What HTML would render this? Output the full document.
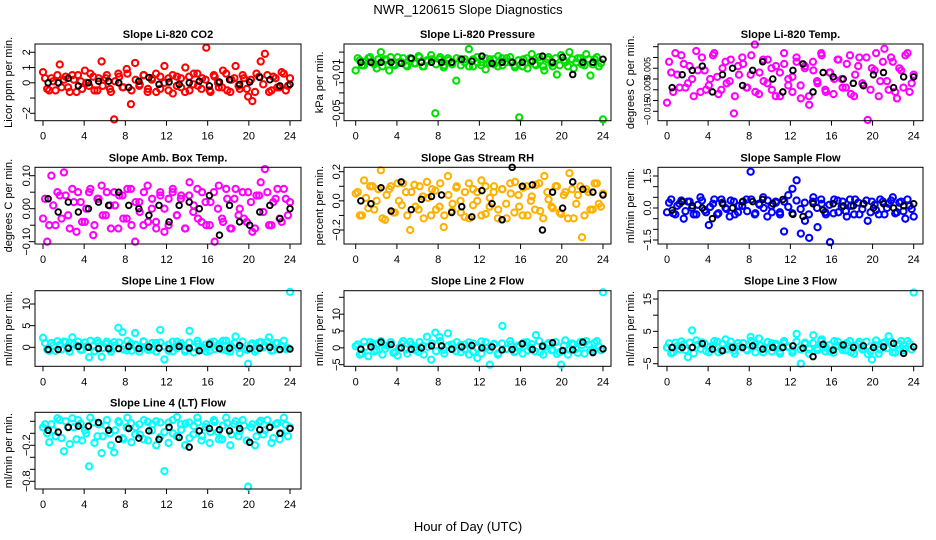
<!DOCTYPE html>
<html><head><meta charset="utf-8">
<style>
html,body{margin:0;padding:0;background:#fff;}
svg{display:block;font-family:"Liberation Sans",Arial,sans-serif;}
</style></head>
<body>
<svg id="fig" width="936" height="540" viewBox="0 0 936 540" xmlns="http://www.w3.org/2000/svg">
<rect x="0" y="0" width="936" height="540" fill="#fff"/>
<text x="468" y="14" font-size="13" text-anchor="middle">NWR_120615  Slope Diagnostics</text>
<text x="468" y="531" font-size="13" text-anchor="middle">Hour of Day (UTC)</text>
</svg>
<script>
const xTicks=[0,4,8,12,16,20,24];
const titles=["Slope Li-820 CO2","Slope Li-820 Pressure","Slope Li-820 Temp.","Slope Amb. Box Temp.","Slope Gas Stream RH","Slope Sample Flow","Slope Line 1 Flow","Slope Line 2 Flow","Slope Line 3 Flow","Slope Line 4 (LT) Flow"];
const yTitles=["Licor ppm per min.","kPa per min.","degrees C per min.","degrees C per min.","percent per min.","ml/min per min.","ml/min per min.","ml/min per min.","ml/min per min.","ml/min per min."];
const yTickVals=[[2,1,0,-1,-2],[0.01,0,-0.01,-0.02,-0.03,-0.04,-0.05],[0.015,0.01,0.005,0,-0.005,-0.01,-0.015],[0.1,0.05,0,-0.05,-0.1],[0.2,0.1,0,-0.1,-0.2],[1.5,1,0.5,0,-0.5,-1,-1.5],[10,5,0],[15,10,5,0,-5],[15,10,5,0,-5],[0.2,0,-0.2,-0.4,-0.6,-0.8]];
const yTickLabels=[["2","1","0","","\u22122"],["","","\u22120.01","","","","\u22120.05"],["","","0.005","","\u22120.005","","\u22120.015"],["0.10","","0.00","","\u22120.10"],["0.2","","0.0","","\u22120.2"],["1.5","","","0.0","","","\u22121.5"],["10","5","0"],["","10","5","0","\u22125"],["15","","5","","\u22125"],["","","\u22120.2","","","\u22120.8"]];
const seriesColors=["#ff0000","#00e000","#ff00ff","#ff00ff","#ffb000","#0000ff","#00ffff","#00ffff","#00ffff","#00ffff"];
const c1=[0.7,-0.4,0.3,-0.5,1.2,0.2,-0.3,0.5,-0.6,0.1,0.8,-0.2,0.4,-0.5,1.4,0.3,-0.4,-2.4,0.6,-0.3,0.9,-1.4,1.3,-0.2,0.5,-0.6,0.2,0.6,-0.4,1.1,0.3,-0.7,0.4,-0.3,1.0,-0.5,0.6,-0.2,0.3,2.3,-0.6,0.4,-0.3,0.8,-0.5,0.2,1.1,-0.4,0.3,-0.9,-1.2,0.6,1.4,1.9,-0.6,0.4,-0.3,0.7,-0.5,0.3];
const b1=[0.3,-0.5,0.1,0.5,-0.3,0.4,-0.6,0.2,0.5,-0.4,0.0,0.6,-0.5,0.3,-0.2,0.5,-0.6,0.1,0.4,-0.3,0.6,-0.5,0.2,-0.1,0.5,-0.4,0.3,-0.6,0.4,0.0,-0.5,0.5,-0.2,0.3,-0.6,0.4,-0.1,0.6,-0.4,0.2,-0.5,0.5,0.0,-0.3,0.6,-0.6,0.3,-0.2,0.5,-0.4,0.2,-0.6,0.4,-0.1,0.5,-0.5,0.3,-0.3,0.6,-0.2];
const k1=[0,0.0,0.3,-0.2,0.0,0.1,0.1,0.0,-0.3,0.1,0.35,-0.1,0.05,-0.1,0.0,0.1,-0.2,0.05,0.2,-0.1,0.05,0.35,0.2,-0.2,-0.1];
const c2=[-0.008,0.002,-0.003,0.004,0.0,-0.006,0.01,0.003,-0.008,-0.002,0.005,0.0,-0.003,0.004,-0.001,0.006,-0.004,0.002,0.007,-0.05,0.003,-0.005,0.004,-0.002,-0.018,0.003,0.0,0.013,-0.004,0.005,0.0,-0.007,0.003,-0.002,0.006,-0.003,0.004,0.0,-0.005,-0.054,0.003,-0.006,0.008,-0.003,0.002,-0.008,0.005,-0.004,-0.012,0.007,0.0,0.01,-0.006,0.004,-0.002,0.008,-0.013,0.003,-0.004,-0.056];
const b2=[0.004,-0.003,0.001,0.005,-0.002,0.003,-0.004,0.002,0.005,-0.003,0.0,0.004,-0.004,0.003,-0.001,0.005,-0.004,0.001,0.003,-0.002,0.005,-0.003,0.002,0.0,0.004,-0.003,0.003,-0.004,0.003,0.0,-0.003,0.004,-0.001,0.003,-0.004,0.004,0.0,0.005,-0.003,0.002,-0.004,0.004,0.0,-0.002,0.005,-0.004,0.003,-0.001,0.004,-0.003,0.002,-0.004,0.003,0.0,0.004,-0.003,0.003,-0.002,0.005,-0.001];
const k2=[0,0,0,0,-0.001,0.004,0,0,0,0,0.003,0.001,0.006,-0.001,0,0,0,0.001,0.006,0,0.005,-0.012,0,0,0.003];
const c3=[-0.011,0.003,0.012,-0.004,0.007,-0.002,0.0,0.013,-0.006,0.004,-0.003,0.011,0.001,-0.005,0.008,-0.001,-0.016,0.006,0.01,-0.004,0.002,0.016,-0.007,0.009,-0.002,0.005,-0.008,0.003,0.012,-0.003,0.001,0.008,-0.009,0.006,-0.012,0.004,-0.002,0.011,-0.006,0.003,0.0,0.009,-0.004,0.007,-0.007,0.002,0.01,-0.003,-0.019,0.005,0.012,-0.001,0.014,-0.005,0.008,-0.009,0.004,0.011,-0.006,0.002];
const b3=[0.008,-0.006,0.002,0.011,-0.004,0.006,-0.008,0.004,0.01,-0.005,0.0,0.012,-0.007,0.005,-0.002,0.009,-0.008,0.002,0.007,-0.004,0.011,-0.006,0.003,-0.001,0.009,-0.005,0.006,-0.008,0.007,0.0,-0.006,0.01,-0.003,0.005,-0.008,0.008,-0.001,0.012,-0.005,0.003,-0.007,0.009,0.0,-0.004,0.011,-0.008,0.006,-0.002,0.01,-0.005,0.004,-0.008,0.008,-0.001,0.01,-0.006,0.005,-0.004,0.012,-0.002];
const k3=[-0.004,0.002,0.004,0.006,-0.006,0.002,0.005,-0.003,0.004,0.008,0.0,-0.006,0.004,0.007,-0.006,0.003,0.001,0.0,-0.002,-0.003,0.002,0.003,-0.004,0.001,0.001];
const c4=[-0.03,-0.1,0.1,-0.05,0.04,0.11,-0.02,0.06,-0.07,0.02,-0.04,0.05,-0.08,0.03,0.07,-0.02,0.01,0.05,-0.06,0.04,-0.03,0.06,-0.1,0.02,-0.05,0.07,0.0,-0.04,0.05,-0.07,0.03,0.06,-0.02,0.04,-0.06,0.08,0.01,-0.03,0.05,-0.05,0.02,-0.1,0.07,-0.04,0.03,-0.06,0.06,0.0,-0.03,0.05,-0.07,0.04,0.08,0.12,-0.05,0.02,0.06,-0.04,0.03,0.02];
const b4=[0.03,-0.05,0.01,0.05,-0.03,0.04,-0.06,0.02,0.05,-0.04,0.0,0.06,-0.05,0.03,-0.02,0.05,-0.06,0.01,0.04,-0.03,0.06,-0.05,0.02,-0.01,0.05,-0.04,0.03,-0.06,0.04,0.0,-0.05,0.05,-0.02,0.03,-0.06,0.04,-0.01,0.06,-0.04,0.02,-0.05,0.05,0.0,-0.03,0.06,-0.06,0.03,-0.02,0.05,-0.04,0.02,-0.06,0.04,-0.01,0.05,-0.05,0.03,-0.03,0.06,-0.02];
const k4=[0.03,-0.01,0.02,-0.01,0.0,0.02,0.01,0.05,0.01,0.0,-0.02,0.01,-0.04,0.01,0.02,0.0,0.04,-0.08,0.01,-0.04,-0.05,-0.01,0.01,-0.03,0.0];
const c5=[0.05,-0.1,0.14,-0.05,0.1,0.0,0.21,-0.13,0.08,-0.08,0.12,-0.03,0.06,-0.2,0.11,-0.06,0.03,0.13,-0.1,0.07,-0.04,-0.18,0.17,-0.07,0.09,0.0,-0.11,0.12,-0.03,0.06,0.14,-0.09,0.02,0.1,-0.06,0.08,-0.12,0.05,0.13,-0.04,0.09,-0.1,0.03,0.11,-0.07,0.17,0.01,-0.05,0.1,-0.09,0.06,0.19,-0.12,0.04,-0.25,0.08,-0.06,0.12,-0.02,0.05];
const b5=[0.06,-0.1,0.02,0.1,-0.06,0.08,-0.12,0.04,0.1,-0.08,0.0,0.12,-0.1,0.06,-0.04,0.1,-0.12,0.02,0.08,-0.06,0.12,-0.1,0.04,-0.02,0.1,-0.08,0.06,-0.12,0.08,0.0,-0.1,0.1,-0.04,0.06,-0.12,0.08,-0.02,0.12,-0.08,0.04,-0.1,0.1,0.0,-0.06,0.12,-0.12,0.06,-0.04,0.1,-0.08,0.04,-0.12,0.08,-0.02,0.1,-0.1,0.06,-0.06,0.12,-0.04];
const k5=[0.0,-0.02,0.09,-0.07,0.13,-0.06,0.01,0.03,0.04,-0.08,-0.04,-0.11,0.07,-0.02,-0.13,0.23,0.1,0.11,-0.2,0.06,-0.05,0.13,0.08,0.06,0.04];
const c6=[-0.2,0.4,-0.3,0.2,-0.5,0.3,0.0,-0.3,0.5,-0.1,-0.8,0.2,-0.3,0.4,0.0,-0.4,0.3,-0.2,0.1,0.4,1.7,-0.3,0.2,0.5,-0.4,0.1,0.3,-0.2,-1.1,0.6,0.9,1.3,-1.2,-0.6,-1.4,0.5,-0.9,0.2,-0.3,-1.6,0.4,-0.2,0.3,-0.4,0.1,0.4,-0.3,0.2,-0.6,0.3,-0.1,0.4,-0.3,0.2,0.5,-0.2,0.3,-0.5,0.1,-0.4];
const b6=[0.25,-0.25,0.1,0.35,-0.15,0.3,-0.3,0.15,0.35,-0.2,0.05,0.4,-0.25,0.25,-0.05,0.35,-0.3,0.1,0.3,-0.15,0.4,-0.25,0.15,0.0,0.35,-0.2,0.25,-0.3,0.3,0.05,-0.25,0.35,-0.05,0.25,-0.3,0.3,0.0,0.4,-0.2,0.15,-0.25,0.35,0.05,-0.15,0.4,-0.3,0.25,-0.05,0.35,-0.2,0.15,-0.3,0.3,0.0,0.35,-0.25,0.25,-0.15,0.4,-0.05];
const k6=[-0.1,0.3,0.1,0.0,-0.5,0.2,0.0,0.3,0.3,0.4,0.2,0.4,-0.3,-0.4,0.2,-0.1,0.2,0.1,0.1,0.2,0.0,0.2,0.0,0.1,0.2];
const c7=[2.2,-0.5,1.0,-0.8,0.6,1.3,-0.3,2.3,0.4,-0.6,1.1,-2.3,0.2,1.5,-2.2,0.8,-0.4,1.2,4.5,3.5,-0.7,0.9,3.3,-1.0,1.4,0.0,-0.5,1.0,4.0,-2.8,0.6,-0.9,1.3,0.3,-0.6,3.8,-1.2,0.8,0.0,-1.0,1.1,-0.4,0.7,1.5,-0.8,0.2,2.5,-1.3,-0.3,-3.8,0.9,-0.5,1.2,0.4,2.3,-0.7,1.0,0.3,-0.4,12.8];
const b7=[1.0,-0.8,0.4,1.4,-0.5,1.2,-1.0,0.7,1.3,-0.6,0.2,1.5,-0.9,1.0,-0.2,1.3,-1.0,0.4,1.1,-0.5,1.5,-0.8,0.6,0.0,1.3,-0.6,1.0,-1.0,1.1,0.2,-0.8,1.3,-0.2,1.0,-1.0,1.1,0.0,1.5,-0.6,0.6,-0.8,1.3,0.2,-0.5,1.5,-1.0,1.0,-0.2,1.3,-0.6,0.6,-1.0,1.1,0.0,1.3,-0.8,1.0,-0.5,1.5,-0.2];
const k7=[-0.5,-0.5,-0.2,0.2,0.0,-0.3,-0.3,-0.3,0.2,-0.3,0.1,-0.2,-0.3,0.2,-0.2,-0.8,0.7,-0.3,-0.2,0.4,-0.3,-0.2,0.0,-0.5,-0.4];
const c8=[0.5,-2.0,1.8,-2.5,1.2,-0.8,2.0,-0.3,0.9,-1.5,-2.3,1.3,-0.5,1.8,0.2,-1.2,0.6,3.3,-3.5,4.5,3.2,-0.6,4.3,1.0,-1.0,0.8,-0.4,1.6,-1.2,-3.0,1.9,0.0,-5.0,1.2,-1.6,6.5,-0.3,1.0,-1.0,0.4,1.5,-0.8,1.1,3.8,-1.3,0.2,1.4,-0.7,-1.8,-5.0,2.2,-0.5,1.0,-1.5,0.8,2.0,-0.6,1.5,0.4,16.5];
const b8=[1.0,-1.7,0.3,1.7,-1.0,1.3,-2.0,0.7,1.7,-1.3,0.0,2.0,-1.7,1.0,-0.7,1.7,-2.0,0.3,1.3,-1.0,2.0,-1.7,0.7,-0.3,1.7,-1.3,1.0,-2.0,1.3,0.0,-1.7,1.7,-0.7,1.0,-2.0,1.3,-0.3,2.0,-1.3,0.7,-1.7,1.7,0.0,-1.0,2.0,-2.0,1.0,-0.7,1.7,-1.3,0.7,-2.0,1.3,-0.3,1.7,-1.7,1.0,-1.0,2.0,-0.7];
const k8=[-0.4,0.3,1.7,1.0,0.0,-0.4,0.0,0.6,0.6,-0.4,0.3,0.7,0.0,0.3,-0.6,-0.5,1.2,-0.5,0.5,1.5,-0.8,-0.6,1.7,-1.4,-0.3];
const c9=[0.0,-1.8,1.5,-0.5,1.0,-3.0,5.3,2.2,-0.4,1.2,-1.5,0.6,1.8,-0.8,2.5,0.3,-1.0,1.4,0.0,-0.6,3.3,1.0,2.8,-1.5,-0.3,1.3,0.6,-1.2,2.0,0.4,-0.9,4.2,-5.0,1.5,-0.5,3.8,-0.8,2.5,0.0,-1.2,2.0,0.5,-0.8,1.4,-1.5,0.6,1.8,-0.3,-2.0,-3.7,2.2,-0.6,1.6,3.5,-1.5,0.8,2.0,-0.4,1.2,17.0];
const b9=[1.3,-1.5,0.5,1.9,-0.8,1.5,-1.8,0.9,1.6,-1.1,0.2,2.0,-1.5,1.2,-0.5,1.8,-1.9,0.4,1.4,-0.9,2.0,-1.5,0.8,-0.2,1.7,-1.2,1.1,-1.9,1.4,0.1,-1.6,1.8,-0.6,1.1,-1.9,1.4,-0.2,2.0,-1.2,0.8,-1.6,1.8,0.1,-0.9,2.0,-1.9,1.1,-0.6,1.8,-1.2,0.8,-1.9,1.4,-0.2,1.8,-1.6,1.1,-0.9,2.0,-0.6];
const k9=[0.0,0.0,0.0,1.2,-0.5,-1.0,0.0,0.0,0.5,-0.5,0.0,0.0,0.5,-0.2,-2.8,1.0,-0.8,0.8,0.0,0.5,0.0,0.2,1.3,-1.8,0.2];
const c10=[0.1,0.0,0.15,-0.05,0.22,-0.3,0.1,0.25,-0.1,0.16,0.05,-0.55,0.18,-0.05,-0.33,0.13,0.0,-0.32,0.2,-0.08,0.1,0.17,-0.02,0.15,-0.1,0.19,0.05,0.2,-0.06,-0.63,0.18,0.0,0.27,0.06,0.16,-0.08,0.12,0.18,-0.04,0.15,0.02,0.19,-0.1,0.13,0.17,-0.02,0.2,0.04,0.13,-0.89,0.15,-0.05,0.21,0.05,0.1,-0.08,0.17,0.0,0.14,0.1];
const b10=[0.15,-0.15,0.05,0.25,-0.08,0.2,-0.18,0.1,0.22,-0.12,0.0,0.26,-0.16,0.15,-0.05,0.22,-0.2,0.05,0.18,-0.1,0.26,-0.15,0.1,-0.02,0.22,-0.12,0.15,-0.2,0.18,0.02,-0.16,0.22,-0.05,0.15,-0.2,0.18,-0.02,0.26,-0.12,0.1,-0.16,0.22,0.02,-0.1,0.26,-0.2,0.15,-0.05,0.22,-0.12,0.1,-0.2,0.18,-0.02,0.22,-0.16,0.15,-0.1,0.26,-0.05];
const k10=[0.05,0.02,0.1,0.12,0.12,0.18,0.05,-0.1,0.08,-0.08,0.04,-0.1,0.1,-0.07,-0.23,0.04,0.08,0.06,0.04,0.08,-0.15,0.06,0.1,0.0,0.08];
const colorSeries=[c1,c2,c3,c4,c5,c6,c7,c8,c9,c10];
const bandSeries=[b1,b2,b3,b4,b5,b6,b7,b8,b9,b10];
const blackSeries=[k1,k2,k3,k4,k5,k6,k7,k8,k9,k10];

const cols=[{bx0:35,bx1:301,x0:43,x24:290,tl:27,yt:9},{bx0:344,bx1:611,x0:355.7,x24:603,tl:337,yt:320},{bx0:658,bx1:923,x0:667,x24:913.7,tl:648,yt:631}];
const rows=[{by0:44,by1:120.7},{by0:167.3,by1:244},{by0:290.7,by1:366.3},{by0:412.3,by1:489}];
const yCal=[[2,52.3,-2,113.3],[0,62.3,-0.05,113.3],[0.015,46.7,-0.015,111.3],[0.1,175.7,-0.1,241.7],[0.2,171.7,-0.2,230],[1.5,176,-1.5,240],[10,304,0,347.3],[15,297.3,-5,364.7],[15,299,-5,363.7],[0,433.3,-0.8,481.3]];
const tickFont=[11,11,9,11,11,11,11,11,11,11];

const NS="http://www.w3.org/2000/svg";
const svg=document.getElementById('fig');
function mk(tag,attrs,parent){const e=document.createElementNS(NS,tag);for(const k in attrs)e.setAttribute(k,attrs[k]);(parent||svg).appendChild(e);return e;}

for(let p=0;p<10;p++){
  const c=cols[p%3], r=rows[Math.floor(p/3)];
  const cal=yCal[p];
  const yS=v=>cal[1]+(v-cal[0])*(cal[3]-cal[1])/(cal[2]-cal[0]);
  const xS=h=>c.x0+h*(c.x24-c.x0)/24;
  const g=mk('g',{});
  
  
  const t=mk('text',{x:(c.bx0+c.bx1)/2,y:r.by0-6,'font-size':11,'font-weight':'bold','text-anchor':'middle'},g);
  t.textContent=titles[p];
  
  
  const cy=(r.by0+r.by1)/2;
  const yt=mk('text',{x:c.yt,y:cy,'font-size':11,'text-anchor':'middle',transform:`rotate(-90 ${c.yt} ${cy})`,'dominant-baseline':'middle'},g);
  yt.textContent=yTitles[p];
  
  
  yTickVals[p].forEach((v,i)=>{
    const y=yS(v);
    mk('line',{x1:c.bx0-5,x2:c.bx0,y1:y,y2:y,stroke:'#000','stroke-width':1},g);
    const lab=yTickLabels[p][i];
    if(lab){
      const tx=mk('text',{x:c.tl,y:y,'font-size':tickFont[p],'text-anchor':'middle','dominant-baseline':'middle',transform:`rotate(-90 ${c.tl} ${y})`},g);
      tx.textContent=lab;
      
      
    }
  });
  xTicks.forEach(h=>{
    const x=xS(h);
    mk('line',{x1:x,x2:x,y1:r.by1,y2:r.by1+5,stroke:'#000','stroke-width':1},g);
    const tx=mk('text',{x:x,y:r.by1+19,'font-size':11,'text-anchor':'middle'},g);
    tx.textContent=String(h);
    
    
  });
  const bs=bandSeries[p];
  bs.forEach((v,i)=>{
    const pt=mk('circle',{cx:xS((i+0.5)*24/bs.length),cy:yS(v),r:3.1,fill:'none',stroke:seriesColors[p],'stroke-width':2.1},g);
    
    
  });
  const cs=colorSeries[p];
  cs.forEach((v,i)=>{
    const pt=mk('circle',{cx:xS(i*24/(cs.length-1)),cy:yS(v),r:3.1,fill:'none',stroke:seriesColors[p],'stroke-width':2.1},g);
    
    
  });
  const ks=blackSeries[p];
  ks.forEach((v,i)=>{
    const pt=mk('circle',{cx:xS(0.5+i*23.5/(ks.length-1)),cy:yS(v),r:2.8,fill:'none',stroke:'#000','stroke-width':1.9},g);
    
    
  });
  const box=mk('rect',{x:c.bx0,y:r.by0,width:c.bx1-c.bx0,height:r.by1-r.by0,fill:'none',stroke:'#000','stroke-width':1},g);
  
  
}
</script>
</body></html>
